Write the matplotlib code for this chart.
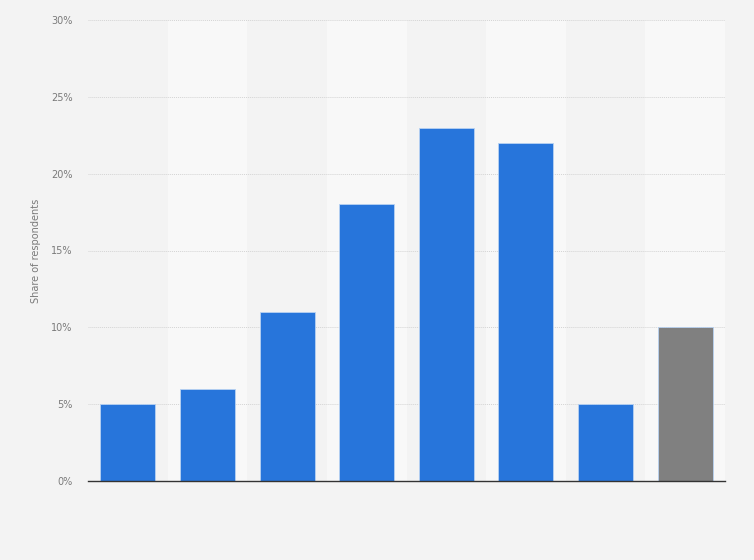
import matplotlib
matplotlib.use('Agg')
import matplotlib.pyplot as plt
import numpy as np

# share of respondents per answer category (last bar = no answer / other)
categories = ['1', '2', '3', '4', '5', '6', '7', '8']
shares = [5, 6, 11, 18, 23, 22, 5, 10]
bar_colors = ['#2775db'] * 7 + ['#808080']
yticks = [0, 5, 10, 15, 20, 25, 30]
ytick_labels = ['0%', '5%', '10%', '15%', '20%', '25%', '30%']

fig = plt.figure(figsize=(7.54, 5.6), dpi=100)
fig.patch.set_facecolor('#f3f3f3')
ax = fig.add_axes([88/754, 1 - 481/560, (725 - 88)/754, (481 - 20)/560])
ax.set_facecolor('#f3f3f3')

x = np.arange(len(categories))

# alternating column bands
for i in x:
    if i % 2 == 1:
        ax.axvspan(i - 0.5, i + 0.5, color='#f8f8f8', zorder=0, lw=0)

ax.bar(x, shares, width=0.69, color=bar_colors, edgecolor='#b8d2f2', linewidth=0.6, zorder=3)

ax.set_xlim(-0.5, len(categories) - 0.5)
ax.set_ylim(0, 30)
ax.set_yticks(yticks)
ax.set_yticklabels(ytick_labels)
ax.set_xticks([])
ax.yaxis.grid(True, linestyle=(0, (1, 1)), color='#d4d4d4', linewidth=0.7, zorder=1)
ax.set_axisbelow(True)

for s in ['top', 'right', 'left']:
    ax.spines[s].set_visible(False)
ax.spines['bottom'].set_color('#333333')
ax.spines['bottom'].set_linewidth(1.0)
ax.spines['bottom'].set_zorder(4)

ax.tick_params(axis='y', length=0, labelsize=7, labelcolor='#7a7a7a', pad=11)
ax.set_ylabel('Share of respondents', fontsize=7, color='#7a7a7a', labelpad=7)

fig.savefig('out.png', dpi=100, facecolor=fig.get_facecolor())
